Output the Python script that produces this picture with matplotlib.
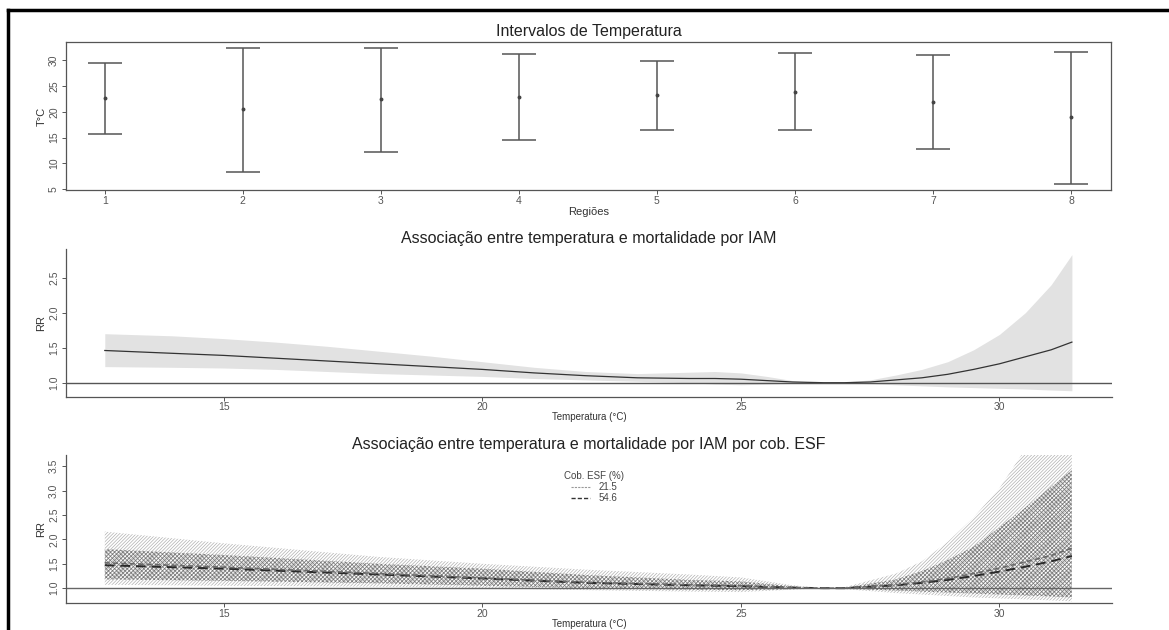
import matplotlib
matplotlib.use("Agg")
import matplotlib.pyplot as plt
from matplotlib.lines import Line2D

plt.rcParams['font.family'] = ['Liberation Sans', 'DejaVu Sans']
plt.rcParams['hatch.linewidth'] = 0.5

# panel 1: temperature ranges per region
regions = [1, 2, 3, 4, 5, 6, 7, 8]
t_mean = [22.7, 20.5, 22.4, 22.9, 23.2, 23.9, 21.9, 18.9]
t_min = [15.7, 8.4, 12.2, 14.6, 16.5, 16.4, 12.8, 6.0]
t_max = [29.5, 32.4, 32.4, 31.2, 29.9, 31.3, 30.9, 31.6]

# panel 2: overall exposure-response
temp = [12.7, 14, 15, 16, 17, 18, 19, 20, 21, 22, 23, 24, 24.5, 25, 25.5, 26,
        26.6, 27, 27.5, 28, 28.5, 29, 29.5, 30, 30.5, 31, 31.4]
rr = [1.46, 1.42, 1.39, 1.35, 1.31, 1.27, 1.23, 1.19, 1.14, 1.10, 1.07, 1.06, 1.06,
      1.05, 1.03, 1.01, 1.0, 1.0, 1.01, 1.04, 1.07, 1.12, 1.19, 1.27, 1.37, 1.47, 1.58]
rr_hi = [1.70, 1.67, 1.63, 1.58, 1.52, 1.45, 1.38, 1.30, 1.22, 1.16, 1.13, 1.15, 1.16,
         1.14, 1.09, 1.03, 1.0, 1.01, 1.04, 1.11, 1.19, 1.30, 1.47, 1.69, 2.0, 2.4, 2.83]
rr_lo = [1.23, 1.22, 1.21, 1.19, 1.16, 1.13, 1.11, 1.09, 1.06, 1.04, 1.02, 1.0, 0.98,
         0.97, 0.98, 0.99, 1.0, 0.995, 0.985, 0.97, 0.955, 0.94, 0.93, 0.92, 0.91, 0.895, 0.885]

# panel 3: by ESF coverage
temp3 = [12.7, 15, 18, 20, 22, 24, 25, 26, 26.6, 27, 28, 28.5, 29, 29.5, 30, 30.5, 31, 31.4]
rr_215 = [1.52, 1.43, 1.30, 1.21, 1.12, 1.07, 1.05, 1.01, 1.0, 1.0, 1.07, 1.13, 1.20,
          1.30, 1.41, 1.54, 1.67, 1.82]
rr_546 = [1.47, 1.40, 1.28, 1.20, 1.11, 1.06, 1.04, 1.01, 1.0, 1.0, 1.06, 1.11, 1.17,
          1.25, 1.34, 1.44, 1.55, 1.66]
hi_215 = [2.16, 1.92, 1.64, 1.50, 1.38, 1.28, 1.22, 1.06, 1.0, 1.02, 1.30, 1.55, 1.95,
          2.45, 3.05, 3.85, 4.8, 5.8]
lo_215 = [1.07, 1.05, 1.03, 1.0, 0.96, 0.93, 0.92, 0.97, 1.0, 0.98, 0.90, 0.87, 0.84,
          0.81, 0.79, 0.77, 0.75, 0.73]
hi_546 = [1.80, 1.68, 1.50, 1.40, 1.27, 1.17, 1.14, 1.04, 1.0, 1.01, 1.18, 1.35, 1.58,
          1.85, 2.25, 2.65, 3.08, 3.42]
lo_546 = [1.18, 1.15, 1.10, 1.05, 1.00, 0.97, 0.96, 0.98, 1.0, 0.99, 0.95, 0.93, 0.91,
          0.89, 0.87, 0.85, 0.83, 0.81]
cob_labels = ['21.5', '54.6']

W, H = 1169, 630
fig = plt.figure(figsize=(W / 100, H / 100), dpi=100)

def box(l, r, t, b):
    return [l / W, 1 - b / H, (r - l) / W, (b - t) / H]

ax1 = fig.add_axes(box(66, 1111, 42, 190))
ax2 = fig.add_axes(box(66, 1111.7, 249, 396.7))
ax3 = fig.add_axes(box(66, 1111.7, 455, 603.3))

txt = '#222222'
tick_c = '#555555'
spine_c = '#555555'

for ax in (ax1, ax2, ax3):
    ax.tick_params(axis='both', labelsize=7.5, colors=tick_c, length=3, width=0.7,
                   labelcolor=tick_c, pad=2)
    ax.tick_params(axis='x', pad=1)
    for s in ax.spines.values():
        s.set_color(spine_c)
        s.set_linewidth(0.9)

# --- panel 1
ax1.errorbar(regions, t_mean,
             yerr=[[m - lo for m, lo in zip(t_mean, t_min)],
                   [hi - m for m, hi in zip(t_mean, t_max)]],
             fmt='o', ms=1.8, color='#444444', ecolor='#555555', elinewidth=1.1,
             capsize=12, capthick=1.1)
ax1.set_xlim(0.72, 8.29)
ax1.set_ylim(4.85, 33.5)
ax1.set_xticks(regions)
ax1.set_yticks([5, 10, 15, 20, 25, 30])
ax1.set_title('Intervalos de Temperatura', fontsize=11.5, color=txt, pad=4)
ax1.set_xlabel('Regiões', fontsize=8, color='#333333', labelpad=1)
ax1.set_ylabel('T°C', fontsize=8, color='#333333', labelpad=2)

# --- panel 2
ax2.fill_between(temp, rr_lo, rr_hi, color='#e2e2e2', lw=0)
ax2.plot(temp, rr, color='#333333', lw=0.9)
ax2.axhline(1, color='#555555', lw=1.0)
ax2.set_xlim(11.95, 32.17)
ax2.set_ylim(0.80, 2.91)
ax2.set_yticks([1.0, 1.5, 2.0, 2.5])
ax2.set_title('Associação entre temperatura e mortalidade por IAM', fontsize=11.5,
              color=txt, pad=4)
ax2.set_ylabel('RR', fontsize=8, color='#333333', labelpad=2)
ax2.set_xlabel('Temperatura (°C)', fontsize=7, color='#333333', labelpad=0)

# --- panel 3
ax3.fill_between(temp3, lo_215, hi_215, facecolor='none', edgecolor='#b0b0b0',
                 hatch='//////////', lw=0)
ax3.fill_between(temp3, lo_546, hi_546, facecolor='none', edgecolor='#7a7a7a',
                 hatch='xxxxxxxx', lw=0)
ax3.plot(temp3, rr_546, color='#2a2a2a', lw=1.4, ls=(0, (5, 3)))
ax3.plot(temp3, rr_215, color='#6a6a6a', lw=1.2, ls=(0, (3, 2)))
ax3.axhline(1, color='#666666', lw=1.0)
ax3.set_xlim(11.95, 32.17)
ax3.set_ylim(0.69, 3.73)
ax3.set_yticks([1.0, 1.5, 2.0, 2.5, 3.0, 3.5])
ax3.set_title('Associação entre temperatura e mortalidade por IAM por cob. ESF',
              fontsize=11.5, color=txt, pad=4)
ax3.set_ylabel('RR', fontsize=8, color='#333333', labelpad=2)
ax3.set_xlabel('Temperatura (°C)', fontsize=7, color='#333333', labelpad=0)
handles = [Line2D([], [], color='#999999', lw=0.8, ls=(0, (2, 1))),
           Line2D([], [], color='#333333', lw=1.0, ls=(0, (3, 1.5)))]
leg = ax3.legend(handles, cob_labels, title='Cob. ESF (%)', loc='upper center',
                 bbox_to_anchor=(0.505, 0.925), frameon=False, fontsize=7,
                 title_fontsize=7, handlelength=2, labelspacing=0.1,
                 handletextpad=0.8, borderpad=0)
for t in leg.get_texts():
    t.set_color('#444444')
leg.get_title().set_color('#444444')

for ax in (ax2, ax3):
    ax.spines['top'].set_visible(False)
    ax.spines['right'].set_visible(False)
    ax.set_xticks([15, 20, 25, 30])

for ax in (ax1, ax2, ax3):
    for lab in ax.get_yticklabels():
        lab.set_rotation(90)
        lab.set_va('center')

# outer frame (top and left edges of the page)
fig.add_artist(Line2D([8 / W, 8 / W], [0, 1 - 10 / H], transform=fig.transFigure,
                      color='black', lw=2.5))
fig.add_artist(Line2D([8 / W, 1], [1 - 10 / H, 1 - 10 / H], transform=fig.transFigure,
                      color='black', lw=2.5))

fig.savefig('out.png', dpi=100, facecolor='white')
